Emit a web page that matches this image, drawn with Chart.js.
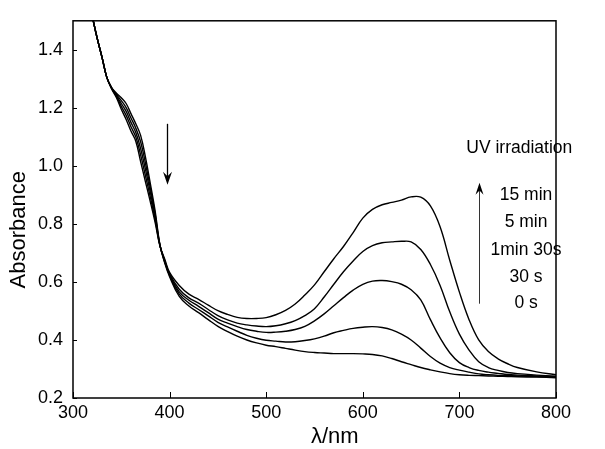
<!DOCTYPE html>
<html>
<head>
<meta charset="utf-8">
<title>UV irradiation spectra</title>
<script src="https://cdn.jsdelivr.net/npm/chart.js@4.4.0/dist/chart.umd.min.js"></script>
<style>
  html, body { margin: 0; padding: 0; background: #fff; }
  #wrap { width: 605px; height: 449px; position: relative; }
</style>
</head>
<body>
<div id="wrap"><canvas id="spectra"></canvas></div>
<script>
// wavelength grid (nm) shared by every spectrum
const wavelength = [316, 320, 325, 330, 335, 340, 345, 350, 355, 360, 365, 370, 375, 380, 385, 390, 395, 400,
  410, 420, 430, 440, 450, 460, 470, 480, 490, 500, 510, 520, 530, 540, 550, 560, 570, 580, 590, 600,
  610, 620, 630, 640, 650, 660, 670, 680, 690, 700, 710, 720, 730, 740, 750, 760, 780, 800];

// absorbance after each irradiation time
const abs0s = [1.58, 1.515, 1.44, 1.375, 1.305, 1.27, 1.25, 1.235, 1.215, 1.18, 1.145, 1.105, 1.03, 0.94, 0.845, 0.728, 0.665, 0.618,
  0.55, 0.517, 0.494, 0.47, 0.447, 0.429, 0.413, 0.40, 0.39, 0.382, 0.377, 0.371, 0.365, 0.36, 0.357, 0.355, 0.353, 0.353, 0.353, 0.352,
  0.35, 0.345, 0.336, 0.325, 0.315, 0.305, 0.297, 0.29, 0.284, 0.28, 0.278, 0.277, 0.276, 0.275, 0.274, 0.273, 0.272, 0.27];
const abs30s = [1.58, 1.515, 1.44, 1.375, 1.305, 1.269, 1.246, 1.225, 1.201, 1.165, 1.13, 1.083, 1.009, 0.925, 0.835, 0.727, 0.668, 0.622,
  0.558, 0.527, 0.505, 0.483, 0.461, 0.445, 0.43, 0.416, 0.406, 0.399, 0.396, 0.393, 0.394, 0.398, 0.404, 0.413, 0.425, 0.433, 0.44, 0.444,
  0.446, 0.443, 0.435, 0.42, 0.40, 0.372, 0.343, 0.32, 0.305, 0.296, 0.289, 0.283, 0.28, 0.278, 0.277, 0.276, 0.274, 0.272];
const abs90s = [1.58, 1.515, 1.44, 1.375, 1.305, 1.268, 1.242, 1.215, 1.188, 1.15, 1.115, 1.06, 0.988, 0.91, 0.825, 0.726, 0.671, 0.625,
  0.566, 0.537, 0.516, 0.494, 0.472, 0.458, 0.446, 0.436, 0.43, 0.426, 0.427, 0.43, 0.436, 0.447, 0.466, 0.49, 0.518, 0.546, 0.572, 0.592,
  0.603, 0.605, 0.601, 0.592, 0.573, 0.538, 0.47, 0.407, 0.356, 0.322, 0.305, 0.295, 0.289, 0.285, 0.281, 0.279, 0.276, 0.273];
const abs5min = [1.58, 1.515, 1.44, 1.375, 1.305, 1.267, 1.239, 1.205, 1.174, 1.135, 1.10, 1.038, 0.966, 0.893, 0.815, 0.725, 0.674, 0.628,
  0.575, 0.545, 0.527, 0.505, 0.484, 0.469, 0.458, 0.452, 0.448, 0.446, 0.449, 0.456, 0.467, 0.484, 0.508, 0.548, 0.592, 0.635, 0.672, 0.705,
  0.725, 0.735, 0.738, 0.74, 0.738, 0.712, 0.66, 0.588, 0.497, 0.42, 0.365, 0.325, 0.305, 0.295, 0.288, 0.284, 0.279, 0.275];
const abs15min = [1.58, 1.515, 1.44, 1.375, 1.305, 1.265, 1.235, 1.195, 1.16, 1.12, 1.085, 1.015, 0.945, 0.877, 0.805, 0.724, 0.678, 0.633,
  0.588, 0.558, 0.54, 0.52, 0.501, 0.488, 0.478, 0.474, 0.474, 0.477, 0.487, 0.502, 0.524, 0.555, 0.59, 0.635, 0.68, 0.722, 0.77, 0.82,
  0.85, 0.866, 0.874, 0.882, 0.893, 0.892, 0.862, 0.79, 0.675, 0.565, 0.47, 0.40, 0.36, 0.335, 0.318, 0.305, 0.29, 0.28];

const seriesLabels = ['0 s', '30 s', '1min 30s', '5 min', '15 min'];
const seriesValues = [abs0s, abs30s, abs90s, abs5min, abs15min];

const xTicks = [300, 400, 500, 600, 700, 800];
const yTicks = [0.2, 0.4, 0.6, 0.8, 1.0, 1.2, 1.4];

// annotation anchors, in data units (nm, absorbance)
const legendTitle = 'UV irradiation';
const legendTitleAt = [762, 1.06];
const legendTextX = 769;
const legendTextY = [0.527, 0.615, 0.709, 0.807, 0.898];   // same order as seriesLabels
const uvArrow = { x: 720, from: 0.525, to: 0.942 };
const downArrow = { x: 397, from: 1.145, to: 0.935 };
const xTitleAt = 571;
const yTitleAt = 0.78;

const FONT = '"Liberation Sans", Arial, Helvetica, sans-serif';

function drawArrow(ctx, x, y0, y1, headLen, headW) {
    const dir = Math.sign(y1 - y0);
    ctx.beginPath();
    ctx.moveTo(x, y0);
    ctx.lineTo(x, y1 - dir * headLen * 0.5);
    ctx.stroke();
    ctx.beginPath();
    ctx.moveTo(x, y1);
    ctx.lineTo(x - headW / 2, y1 - dir * headLen);
    ctx.lineTo(x, y1 - dir * headLen * 0.65);
    ctx.lineTo(x + headW / 2, y1 - dir * headLen);
    ctx.closePath();
    ctx.fill();
}

// frame, inward ticks, axis titles and the arrows / labels
const decorations = {
    id: 'decorations',
    afterDatasetsDraw(chart) {
        const { ctx, chartArea: a, scales: { x, y } } = chart;
        ctx.save();
        ctx.strokeStyle = '#000';
        ctx.fillStyle = '#000';

        ctx.lineWidth = 1.5;
        ctx.strokeRect(a.left, a.top, a.right - a.left, a.bottom - a.top);

        ctx.lineWidth = 1;
        xTicks.forEach(v => {
            const px = Math.round(x.getPixelForValue(v)) + 0.5;
            ctx.beginPath();
            ctx.moveTo(px, a.bottom);
            ctx.lineTo(px, a.bottom - 6);
            ctx.stroke();
        });
        yTicks.forEach(v => {
            const py = Math.round(y.getPixelForValue(v)) + 0.5;
            ctx.beginPath();
            ctx.moveTo(a.left, py);
            ctx.lineTo(a.left + 4, py);
            ctx.stroke();
        });

        // axis titles
        ctx.font = '22px ' + FONT;
        ctx.textAlign = 'center';
        ctx.textBaseline = 'middle';
        ctx.fillText('\u03bb/nm', x.getPixelForValue(xTitleAt), a.bottom + 39);
        ctx.save();
        ctx.translate(19, y.getPixelForValue(yTitleAt));
        ctx.rotate(-Math.PI / 2);
        ctx.fillText('Absorbance', 0, 0);
        ctx.restore();

        // legend text
        ctx.font = '17.5px ' + FONT;
        ctx.fillText(legendTitle, x.getPixelForValue(legendTitleAt[0]), y.getPixelForValue(legendTitleAt[1]));
        seriesLabels.forEach((label, i) => {
            ctx.fillText(label, x.getPixelForValue(legendTextX), y.getPixelForValue(legendTextY[i]));
        });

        // arrows
        ctx.lineWidth = 1.3;
        drawArrow(ctx, Math.round(x.getPixelForValue(downArrow.x)) + 0.5,
            y.getPixelForValue(downArrow.from), y.getPixelForValue(downArrow.to), 13, 9);
        ctx.lineWidth = 1;
        ctx.strokeStyle = '#333';
        drawArrow(ctx, Math.round(x.getPixelForValue(uvArrow.x)) + 0.5,
            y.getPixelForValue(uvArrow.from), y.getPixelForValue(uvArrow.to), 12, 8);
        ctx.restore();
    }
};

const datasets = seriesValues.map((values, i) => ({
    label: seriesLabels[i],
    data: wavelength.map((w, j) => ({ x: w, y: values[j] })),
    borderColor: '#000',
    borderWidth: 1.4,
    pointRadius: 0,
    fill: false,
    tension: 0.4
}));

new Chart(document.getElementById('spectra'), {
    type: 'line',
    data: { datasets: datasets },
    options: {
        responsive: true,
        maintainAspectRatio: false,
        animation: false,
        layout: { padding: { top: 12, right: 49, left: 0, bottom: 0 } },
        plugins: {
            legend: { display: false },
            tooltip: { enabled: false }
        },
        scales: {
            x: {
                type: 'linear',
                min: 300,
                max: 800,
                afterBuildTicks: scale => { scale.ticks = xTicks.map(v => ({ value: v })); },
                afterFit: scale => { scale.height = 51; },
                grid: { display: false, drawTicks: false },
                border: { display: false },
                ticks: {
                    color: '#000',
                    padding: 4,
                    maxRotation: 0,
                    font: { family: FONT, size: 18 }
                }
            },
            y: {
                min: 0.2,
                max: 1.5,
                afterBuildTicks: scale => { scale.ticks = yTicks.map(v => ({ value: v })); },
                afterFit: scale => { scale.width = 73; },
                grid: { display: false, drawTicks: false },
                border: { display: false },
                ticks: {
                    color: '#000',
                    padding: 10,
                    font: { family: FONT, size: 18 },
                    callback: v => v.toFixed(1)
                }
            }
        }
    },
    plugins: [decorations]
});
</script>
</body>
</html>
